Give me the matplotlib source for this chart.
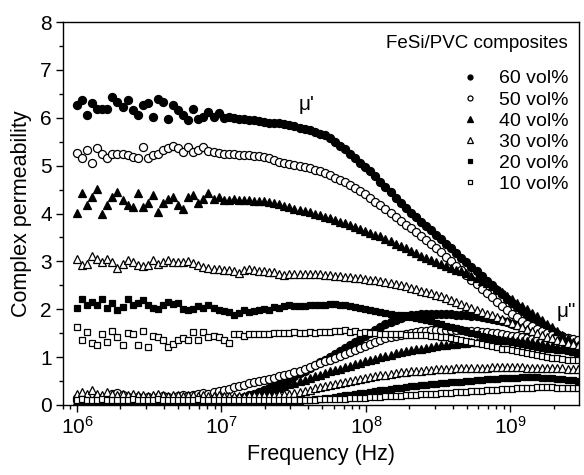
import numpy as np
import matplotlib
matplotlib.use("Agg")
import matplotlib.pyplot as plt
from matplotlib.ticker import LogLocator, MultipleLocator, NullFormatter

plt.rcParams['font.family'] = ['Liberation Sans', 'DejaVu Sans']

# frequency sweep (Hz), 100 log-spaced points
freq = np.logspace(6, 9.465, 100)

labels = ['60 vol%', '50 vol%', '40 vol%', '30 vol%', '20 vol%', '10 vol%']

# real part mu'
mu_re_60 = [6.26, 6.37, 6.05, 6.30, 6.19, 6.19, 6.19, 6.44, 6.33, 6.22,
            6.37, 6.16, 6.05, 6.26, 6.30, 6.02, 6.40, 6.33, 5.98, 6.26,
            6.16, 6.05, 5.95, 6.18, 5.98, 6.02, 6.12, 6.02, 6.10, 6.00,
            6.02, 6.00, 5.98, 5.98, 5.96, 5.95, 5.93, 5.92, 5.90, 5.89,
            5.88, 5.86, 5.84, 5.82, 5.79, 5.77, 5.74, 5.71, 5.67, 5.63,
            5.58, 5.50, 5.42, 5.34, 5.25, 5.16, 5.06, 4.97, 4.88, 4.78,
            4.66, 4.55, 4.44, 4.33, 4.22, 4.12, 4.02, 3.93, 3.83, 3.74,
            3.65, 3.56, 3.46, 3.37, 3.27, 3.18, 3.08, 2.99, 2.89, 2.80,
            2.70, 2.60, 2.50, 2.41, 2.31, 2.22, 2.13, 2.04, 1.96, 1.88,
            1.80, 1.73, 1.66, 1.60, 1.54, 1.49, 1.44, 1.39, 1.35, 1.31]
mu_re_50 = [5.27, 5.15, 5.32, 5.06, 5.36, 5.25, 5.15, 5.25, 5.24, 5.24,
            5.22, 5.18, 5.15, 5.39, 5.15, 5.22, 5.24, 5.32, 5.36, 5.40,
            5.36, 5.29, 5.39, 5.29, 5.32, 5.39, 5.30, 5.29, 5.27, 5.25,
            5.24, 5.24, 5.23, 5.22, 5.22, 5.21, 5.21, 5.18, 5.15, 5.12,
            5.08, 5.06, 5.04, 5.02, 5.00, 4.97, 4.94, 4.91, 4.88, 4.84,
            4.80, 4.75, 4.70, 4.65, 4.59, 4.53, 4.47, 4.40, 4.33, 4.25,
            4.17, 4.09, 4.01, 3.93, 3.85, 3.77, 3.69, 3.61, 3.53, 3.45,
            3.37, 3.28, 3.19, 3.10, 3.00, 2.91, 2.81, 2.72, 2.62, 2.53,
            2.43, 2.34, 2.25, 2.15, 2.06, 1.98, 1.90, 1.83, 1.76, 1.70,
            1.64, 1.59, 1.54, 1.50, 1.47, 1.44, 1.41, 1.39, 1.37, 1.35]
mu_re_40 = [4.01, 4.42, 4.17, 4.35, 4.52, 4.00, 4.17, 4.35, 4.45, 4.28,
            4.17, 4.14, 4.42, 4.14, 4.21, 4.38, 4.03, 4.21, 4.31, 4.35,
            4.17, 4.10, 4.35, 4.38, 4.21, 4.31, 4.42, 4.31, 4.35, 4.28,
            4.28, 4.30, 4.29, 4.28, 4.28, 4.27, 4.27, 4.26, 4.25, 4.22,
            4.19, 4.16, 4.13, 4.10, 4.08, 4.06, 4.03, 4.00, 3.97, 3.93,
            3.90, 3.86, 3.83, 3.80, 3.76, 3.72, 3.68, 3.64, 3.60, 3.56,
            3.52, 3.47, 3.42, 3.37, 3.32, 3.27, 3.22, 3.17, 3.12, 3.07,
            3.03, 2.99, 2.95, 2.91, 2.87, 2.83, 2.79, 2.75, 2.70, 2.65,
            2.60, 2.54, 2.48, 2.42, 2.35, 2.28, 2.21, 2.14, 2.07, 2.00,
            1.93, 1.86, 1.78, 1.70, 1.62, 1.54, 1.46, 1.39, 1.32, 1.26]
mu_re_30 = [3.04, 2.92, 2.95, 3.11, 3.06, 2.99, 3.06, 2.99, 2.87, 2.95,
            3.02, 2.99, 2.92, 2.90, 2.92, 3.02, 2.95, 2.99, 3.02, 2.99,
            2.99, 2.99, 3.00, 2.97, 2.92, 2.89, 2.87, 2.85, 2.85, 2.83,
            2.81, 2.79, 2.76, 2.81, 2.85, 2.81, 2.79, 2.79, 2.77, 2.77,
            2.74, 2.72, 2.74, 2.74, 2.74, 2.74, 2.74, 2.73, 2.73, 2.72,
            2.71, 2.70, 2.69, 2.68, 2.67, 2.66, 2.65, 2.64, 2.62, 2.61,
            2.59, 2.57, 2.55, 2.53, 2.51, 2.48, 2.45, 2.42, 2.39, 2.36,
            2.33, 2.30, 2.27, 2.23, 2.19, 2.15, 2.11, 2.07, 2.03, 1.99,
            1.95, 1.91, 1.87, 1.83, 1.79, 1.75, 1.71, 1.67, 1.63, 1.59,
            1.55, 1.51, 1.47, 1.43, 1.39, 1.36, 1.33, 1.30, 1.27, 1.24]
mu_re_20 = [2.03, 2.22, 2.08, 2.15, 2.08, 2.22, 2.03, 2.13, 1.98, 2.05,
            2.22, 2.08, 2.13, 2.19, 2.08, 2.03, 2.01, 2.08, 2.15, 2.12,
            2.13, 2.01, 1.98, 2.01, 2.06, 2.03, 2.08, 2.03, 1.98, 1.96,
            1.94, 1.89, 1.92, 1.98, 1.94, 1.96, 1.98, 2.01, 1.99, 2.05,
            2.03, 2.06, 2.08, 2.06, 2.06, 2.07, 2.08, 2.08, 2.09, 2.09,
            2.10, 2.10, 2.09, 2.08, 2.07, 2.05, 2.03, 2.01, 1.99, 1.97,
            1.95, 1.93, 1.91, 1.89, 1.87, 1.85, 1.83, 1.81, 1.79, 1.77,
            1.75, 1.72, 1.69, 1.66, 1.63, 1.60, 1.57, 1.54, 1.51, 1.48,
            1.45, 1.42, 1.40, 1.38, 1.36, 1.34, 1.32, 1.30, 1.28, 1.26,
            1.24, 1.22, 1.20, 1.18, 1.17, 1.15, 1.14, 1.12, 1.11, 1.10]
mu_re_10 = [1.62, 1.36, 1.52, 1.30, 1.25, 1.48, 1.32, 1.55, 1.42, 1.25,
            1.50, 1.49, 1.25, 1.55, 1.21, 1.45, 1.42, 1.36, 1.21, 1.28,
            1.35, 1.39, 1.35, 1.52, 1.36, 1.52, 1.42, 1.45, 1.41, 1.36,
            1.30, 1.49, 1.48, 1.45, 1.49, 1.48, 1.49, 1.48, 1.49, 1.50,
            1.50, 1.51, 1.50, 1.52, 1.50, 1.51, 1.52, 1.50, 1.53, 1.52,
            1.53, 1.55, 1.54, 1.57, 1.52, 1.55, 1.51, 1.52, 1.50, 1.50,
            1.49, 1.49, 1.48, 1.48, 1.48, 1.47, 1.47, 1.47, 1.46, 1.46,
            1.45, 1.44, 1.43, 1.42, 1.40, 1.38, 1.36, 1.34, 1.32, 1.30,
            1.28, 1.26, 1.23, 1.21, 1.18, 1.16, 1.14, 1.12, 1.10, 1.08,
            1.06, 1.04, 1.02, 1.01, 0.99, 0.98, 0.96, 0.95, 0.94, 0.93]

# imaginary part mu''
mu_im_60 = [0.10, 0.08, 0.09, 0.10, 0.08, 0.09, 0.08, 0.10, 0.09, 0.08,
            0.09, 0.08, 0.10, 0.09, 0.08, 0.09, 0.08, 0.09, 0.08, 0.09,
            0.08, 0.09, 0.08, 0.09, 0.09, 0.08, 0.09, 0.10, 0.10, 0.11,
            0.11, 0.12, 0.14, 0.17, 0.20, 0.23, 0.27, 0.31, 0.35, 0.40,
            0.45, 0.50, 0.55, 0.60, 0.66, 0.71, 0.77, 0.83, 0.89, 0.95,
            1.01, 1.07, 1.13, 1.19, 1.25, 1.31, 1.38, 1.44, 1.51, 1.57,
            1.63, 1.69, 1.74, 1.78, 1.82, 1.85, 1.87, 1.89, 1.90, 1.91,
            1.91, 1.91, 1.91, 1.90, 1.90, 1.89, 1.88, 1.87, 1.86, 1.85,
            1.84, 1.82, 1.80, 1.78, 1.76, 1.73, 1.70, 1.67, 1.64, 1.61,
            1.58, 1.54, 1.50, 1.47, 1.43, 1.40, 1.37, 1.34, 1.31, 1.28]
mu_im_50 = [0.15, 0.16, 0.14, 0.17, 0.15, 0.14, 0.16, 0.22, 0.25, 0.20,
            0.16, 0.15, 0.16, 0.15, 0.17, 0.15, 0.16, 0.18, 0.17, 0.15,
            0.18, 0.20, 0.18, 0.21, 0.22, 0.25, 0.24, 0.28, 0.30, 0.32,
            0.34, 0.37, 0.40, 0.42, 0.45, 0.47, 0.50, 0.52, 0.55, 0.57,
            0.60, 0.63, 0.65, 0.68, 0.72, 0.76, 0.79, 0.83, 0.87, 0.91,
            0.95, 0.99, 1.03, 1.07, 1.11, 1.15, 1.19, 1.23, 1.28, 1.32,
            1.36, 1.39, 1.42, 1.45, 1.47, 1.49, 1.51, 1.53, 1.54, 1.55,
            1.56, 1.56, 1.57, 1.57, 1.57, 1.56, 1.56, 1.55, 1.55, 1.54,
            1.53, 1.52, 1.51, 1.50, 1.48, 1.47, 1.45, 1.44, 1.42, 1.40,
            1.38, 1.36, 1.34, 1.32, 1.30, 1.28, 1.26, 1.24, 1.22, 1.20]
mu_im_40 = [0.08, 0.07, 0.09, 0.08, 0.07, 0.08, 0.09, 0.08, 0.07, 0.08,
            0.08, 0.09, 0.08, 0.07, 0.08, 0.08, 0.09, 0.08, 0.08, 0.07,
            0.08, 0.08, 0.09, 0.08, 0.08, 0.08, 0.07, 0.08, 0.08, 0.08,
            0.09, 0.11, 0.13, 0.15, 0.18, 0.21, 0.24, 0.27, 0.30, 0.33,
            0.36, 0.40, 0.43, 0.46, 0.50, 0.53, 0.56, 0.60, 0.63, 0.66,
            0.70, 0.73, 0.76, 0.79, 0.82, 0.85, 0.88, 0.91, 0.94, 0.97,
            1.00, 1.03, 1.05, 1.08, 1.10, 1.12, 1.14, 1.16, 1.18, 1.20,
            1.22, 1.23, 1.25, 1.26, 1.27, 1.28, 1.29, 1.30, 1.31, 1.32,
            1.33, 1.33, 1.34, 1.34, 1.35, 1.35, 1.35, 1.34, 1.34, 1.33,
            1.32, 1.30, 1.28, 1.26, 1.24, 1.21, 1.19, 1.16, 1.13, 1.10]
mu_im_30 = [0.24, 0.27, 0.22, 0.31, 0.24, 0.20, 0.27, 0.22, 0.20, 0.24,
            0.20, 0.22, 0.20, 0.21, 0.19, 0.20, 0.22, 0.20, 0.19, 0.20,
            0.21, 0.19, 0.20, 0.20, 0.19, 0.20, 0.19, 0.19, 0.20, 0.19,
            0.19, 0.19, 0.19, 0.19, 0.20, 0.20, 0.20, 0.20, 0.21, 0.21,
            0.22, 0.23, 0.24, 0.26, 0.28, 0.30, 0.32, 0.35, 0.37, 0.40,
            0.42, 0.44, 0.46, 0.48, 0.50, 0.52, 0.54, 0.56, 0.58, 0.60,
            0.62, 0.63, 0.65, 0.66, 0.68, 0.69, 0.70, 0.71, 0.72, 0.73,
            0.74, 0.75, 0.75, 0.76, 0.76, 0.77, 0.77, 0.77, 0.78, 0.78,
            0.78, 0.78, 0.79, 0.79, 0.79, 0.79, 0.79, 0.79, 0.79, 0.78,
            0.78, 0.78, 0.78, 0.77, 0.77, 0.77, 0.77, 0.76, 0.76, 0.76]
mu_im_20 = [0.07, 0.08, 0.07, 0.07, 0.06, 0.07, 0.08, 0.07, 0.07, 0.06,
            0.07, 0.07, 0.08, 0.07, 0.07, 0.06, 0.07, 0.07, 0.07, 0.08,
            0.07, 0.07, 0.06, 0.07, 0.07, 0.07, 0.07, 0.06, 0.07, 0.07,
            0.07, 0.07, 0.07, 0.06, 0.07, 0.07, 0.07, 0.07, 0.07, 0.07,
            0.07, 0.08, 0.08, 0.09, 0.09, 0.10, 0.11, 0.12, 0.13, 0.14,
            0.15, 0.17, 0.18, 0.20, 0.21, 0.23, 0.25, 0.26, 0.28, 0.29,
            0.31, 0.32, 0.34, 0.35, 0.36, 0.38, 0.39, 0.40, 0.41, 0.42,
            0.43, 0.44, 0.45, 0.46, 0.47, 0.48, 0.49, 0.50, 0.51, 0.52,
            0.53, 0.54, 0.55, 0.55, 0.56, 0.56, 0.57, 0.57, 0.58, 0.58,
            0.58, 0.58, 0.57, 0.57, 0.56, 0.55, 0.54, 0.53, 0.52, 0.51]
mu_im_10 = [0.11, 0.12, 0.10, 0.11, 0.11, 0.12, 0.10, 0.11, 0.11, 0.10,
            0.11, 0.12, 0.11, 0.10, 0.11, 0.11, 0.12, 0.11, 0.10, 0.11,
            0.11, 0.11, 0.10, 0.11, 0.12, 0.11, 0.11, 0.10, 0.11, 0.11,
            0.11, 0.11, 0.11, 0.10, 0.11, 0.11, 0.11, 0.11, 0.11, 0.11,
            0.11, 0.11, 0.11, 0.11, 0.11, 0.11, 0.11, 0.11, 0.12, 0.12,
            0.12, 0.12, 0.13, 0.13, 0.14, 0.14, 0.15, 0.15, 0.16, 0.16,
            0.17, 0.18, 0.18, 0.19, 0.19, 0.20, 0.21, 0.21, 0.22, 0.23,
            0.24, 0.24, 0.25, 0.26, 0.26, 0.27, 0.28, 0.28, 0.29, 0.30,
            0.30, 0.31, 0.32, 0.32, 0.33, 0.34, 0.34, 0.35, 0.35, 0.36,
            0.36, 0.37, 0.37, 0.37, 0.37, 0.36, 0.36, 0.36, 0.35, 0.35]

re_series = [mu_re_60, mu_re_50, mu_re_40, mu_re_30, mu_re_20, mu_re_10]
im_series = [mu_im_60, mu_im_50, mu_im_40, mu_im_30, mu_im_20, mu_im_10]
markers = ['o', 'o', '^', '^', 's', 's']
filled = [True, False, True, False, True, False]
msizes = [5.8, 5.8, 6.2, 6.2, 5.0, 5.0]

fig = plt.figure(figsize=(5.84, 4.75), dpi=100)
ax = fig.add_axes([63/584, 1-405/475, 516/584, 383/475])

handles = []
for k in range(6):
    fc = 'black' if filled[k] else 'white'
    for data in (im_series[k], re_series[k]):
        h, = ax.plot(freq, data, ls='none', marker=markers[k], ms=msizes[k],
                     mfc=fc, mec='black', mew=0.9)
    handles.append(h)

ax.set_xscale('log')
ax.set_xlim(8.0e5, 2.98e9)
ax.set_ylim(0, 8)
ax.yaxis.set_major_locator(MultipleLocator(1))
ax.yaxis.set_minor_locator(MultipleLocator(0.5))
ax.xaxis.set_major_locator(LogLocator(base=10, numticks=10))
ax.xaxis.set_minor_locator(LogLocator(base=10, subs=np.arange(2, 10), numticks=10))
ax.xaxis.set_minor_formatter(NullFormatter())
ax.tick_params(axis='both', which='major', direction='out', length=5, width=1,
               labelsize=15, top=False, right=False, pad=3)
ax.tick_params(axis='both', which='minor', direction='out', length=3, width=1,
               top=False, right=False)
for sp in ax.spines.values():
    sp.set_linewidth(1.0)

ax.set_xlabel('Frequency (Hz)', fontsize=15.5, labelpad=4)
ax.set_ylabel('Complex permeability', fontsize=15.5, labelpad=6)

ax.text(3.85e7, 6.28, "μ'", fontsize=15, ha='center', va='center')
ax.text(2.45e9, 1.95, 'μ"', fontsize=15, ha='center', va='center')

ax.text(0.978, 0.945, 'FeSi/PVC composites', transform=ax.transAxes,
        ha='right', va='center', fontsize=13.5)
leg = ax.legend(handles, labels, loc='upper right', bbox_to_anchor=(0.98, 0.875),
                frameon=False, fontsize=14, markerscale=0.62, handlelength=1.0,
                handletextpad=1.0, labelspacing=0.18, borderpad=0, borderaxespad=0)

fig.savefig('out.png', dpi=100)
